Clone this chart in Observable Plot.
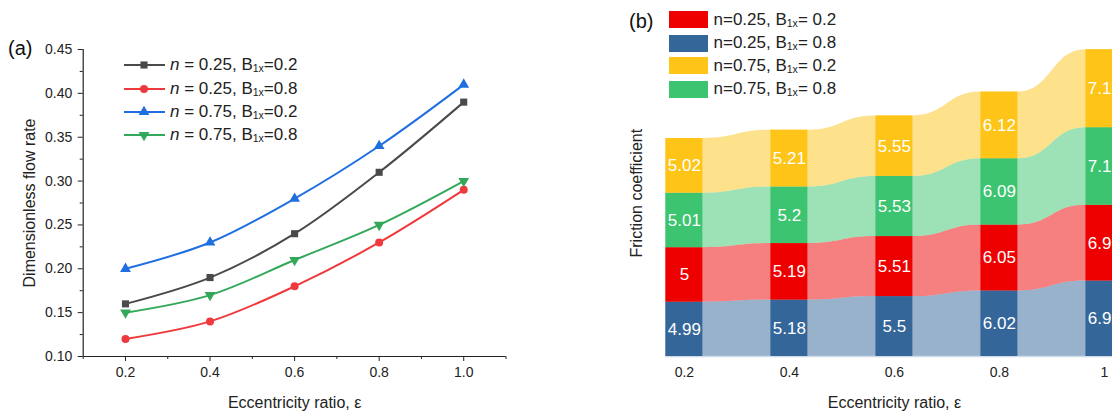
<!DOCTYPE html>
<html><head><meta charset="utf-8">
<script src="https://cdn.jsdelivr.net/npm/d3@7"></script>
<script src="https://cdn.jsdelivr.net/npm/@observablehq/plot@0.6"></script>
<style>
html,body{margin:0;padding:0;background:#fff;overflow:hidden;}
#wrap{position:relative;width:1112px;height:413px;overflow:hidden;font-family:"Liberation Sans",Arial,sans-serif;color:#222;}
#pa{position:absolute;left:0;top:0;width:560px;height:413px;}
#pb{position:absolute;left:560px;top:0;width:600px;height:413px;}
#pa svg,#pb svg{max-width:none !important;}
.tag{position:absolute;font-size:20px;line-height:20px;color:#111;}
.row{position:absolute;display:flex;align-items:center;white-space:nowrap;height:20px;font-size:17px;color:#222;}
.row sub{font-size:0.62em;position:relative;top:0.2em;vertical-align:baseline;line-height:0;}
.sw{display:inline-block;width:39px;height:17px;margin-right:6px;}
</style></head><body>
<div id="wrap"><div id="pa"></div><div id="pb"></div></div>
<script>
// ---- data ----
const ecc = [0.2, 0.4, 0.6, 0.8, 1.0];
const eccTickLabelsB = ["0.2", "0.4", "0.6", "0.8", "1"];
const yTicksA = [0.10, 0.15, 0.20, 0.25, 0.30, 0.35, 0.40, 0.45];
const yMinorA = [0.125, 0.175, 0.225, 0.275, 0.325, 0.375, 0.425];
const xMinorA = [0.1, 0.3, 0.5, 0.7, 0.9, 1.1];

// panel (a): dimensionless flow rate
const flowN = ["0.25", "0.25", "0.75", "0.75"];
const flowB = ["0.2", "0.8", "0.2", "0.8"];
const flowN025B02 = [0.16, 0.19, 0.24, 0.31, 0.39];
const flowN025B08 = [0.12, 0.14, 0.18, 0.23, 0.29];
const flowN075B02 = [0.20, 0.23, 0.28, 0.34, 0.41];
const flowN075B08 = [0.15, 0.17, 0.21, 0.25, 0.30];
const flowColors = ["#4a4a4a", "#f0393c", "#1f6fe0", "#34a85a"];

// panel (b): friction coefficient (stack order bottom -> top)
const fricN = ["0.25", "0.25", "0.75", "0.75"];
const fricB = ["0.8", "0.2", "0.8", "0.2"];
const fricN025B08 = [4.99, 5.18, 5.5, 6.02, 6.93];
const fricN025B02 = [5, 5.19, 5.51, 6.05, 6.96];
const fricN075B08 = [5.01, 5.2, 5.53, 6.09, 7.12];
const fricN075B02 = [5.02, 5.21, 5.55, 6.12, 7.16];
const fricColors = ["#346699", "#ee0000", "#3cc470", "#fec418"];
const legendOrderB = [1, 0, 3, 2];

// ---- panel (a) ----
const flowValues = [flowN025B02, flowN025B08, flowN075B02, flowN075B08];
const flowSeries = flowN.map((n, k) => `n = ${n}, B1x=${flowB[k]}`);
const triDown = {draw(ctx, size) {
  const y = -Math.sqrt(size / (Math.sqrt(3) * 3));
  ctx.moveTo(0, -y * 2);
  ctx.lineTo(-Math.sqrt(3) * y, y);
  ctx.lineTo(Math.sqrt(3) * y, y);
  ctx.closePath();
}};
const flowSymbols = [d3.symbolSquare, d3.symbolCircle, d3.symbolTriangle, triDown];
const flowRows = [];
flowValues.forEach((vals, k) => ecc.forEach((e, i) => flowRows.push({series: flowSeries[k], e, q: vals[i]})));

const plotA = Plot.plot({
  width: 560, height: 413,
  marginLeft: 82.7, marginRight: 54.5, marginTop: 49, marginBottom: 57,
  style: {fontFamily: "Liberation Sans, Arial, sans-serif", color: "#222", background: "transparent", maxWidth: "none"},
  x: {domain: [0.1, 1.1]},
  y: {domain: [0.10, 0.45]},
  color: {domain: flowSeries, range: flowColors},
  symbol: {domain: flowSeries, range: flowSymbols},
  marks: [
    Plot.axisY({ticks: yTicksA, tickFormat: d => d.toFixed(2), tickSize: 5, tickPadding: 6, fontSize: 14, label: null}),
    Plot.axisY({ticks: yMinorA, tickSize: 3, tickFormat: () => "", label: null}),
    Plot.axisY({ticks: [], label: "Dimensionless flow rate", labelArrow: "none", labelAnchor: "center", labelOffset: 60, fontSize: 16}),
    Plot.axisX({ticks: ecc, tickFormat: d => d.toFixed(1), tickSize: 5, tickPadding: 6, fontSize: 14, label: null}),
    Plot.axisX({ticks: xMinorA, tickSize: 3, tickFormat: () => "", label: null}),
    Plot.axisX({ticks: [], label: "Eccentricity ratio, ε", labelArrow: "none", labelAnchor: "center", labelOffset: 51, fontSize: 16}),
    Plot.ruleX([0.1], {y1: 0.10, y2: 0.45, stroke: "#222", strokeWidth: 1.2}),
    Plot.ruleY([0.10], {x1: 0.1, x2: 1.1, stroke: "#222", strokeWidth: 1.2}),
    Plot.line(flowRows, {x: "e", y: "q", z: "series", stroke: "series", strokeWidth: 2, curve: "catmull-rom"}),
    Plot.dot(flowRows, {x: "e", y: "q", fill: "series", symbol: "series", r: 4, stroke: "none"})
  ]
});
plotA.style.maxWidth = "none";
document.getElementById("pa").appendChild(plotA);

// ---- panel (b) ----
const fricValues = [fricN025B08, fricN025B02, fricN075B08, fricN075B02];
const hw = 0.0352;
const barRows = [];
const cum = ecc.map(() => 0);
const areaRows = [];
fricValues.forEach((vals, k) => {
  ecc.forEach((e, i) => {
    const y1 = cum[i], y2 = cum[i] + vals[i];
    barRows.push({k, e, y1, y2, v: vals[i]});
    areaRows.push({k, e: e - hw, y1, y2});
    areaRows.push({k, e: e + hw, y1, y2});
    cum[i] = y2;
  });
});

const plotB = Plot.plot({
  width: 600, height: 413,
  marginLeft: 105.4, marginRight: 37.6, marginTop: 29.3, marginBottom: 57,
  style: {fontFamily: "Liberation Sans, Arial, sans-serif", color: "#222", background: "transparent", maxWidth: "none"},
  x: {domain: [0.2 - hw, 1.0 + hw]},
  y: {domain: [0, 30]},
  marks: [
    Plot.areaY(areaRows, {x: "e", y1: "y1", y2: "y2", z: "k", fill: d => fricColors[d.k], fillOpacity: 0.5, curve: "bump-x"}),
    Plot.ruleY([0], {x1: 0.2 - hw, x2: 1.2, stroke: "#cfdbe6", strokeWidth: 1.5}),
    Plot.rect(barRows, {x1: d => d.e - hw, x2: d => d.e + hw, y1: "y1", y2: "y2", fill: d => fricColors[d.k]}),
    Plot.text(barRows, {x: "e", y: d => (d.y1 + d.y2) / 2, text: d => String(d.v), fill: "white", fontSize: 17}),
    Plot.axisX({ticks: ecc, tickFormat: (d, i) => eccTickLabelsB[i], tickSize: 0, tickPadding: 11, fontSize: 14, label: null}),
    Plot.axisX({ticks: [], label: "Eccentricity ratio, ε", labelArrow: "none", labelAnchor: "center", labelOffset: 51, fontSize: 16}),
    Plot.axisY({ticks: [], label: "Friction coefficient", labelArrow: "none", labelAnchor: "center", labelOffset: 35, fontSize: 16})
  ]
});
plotB.style.maxWidth = "none";
document.getElementById("pb").appendChild(plotB);

// ---- tags and legends ----
const wrap = document.getElementById("wrap");
function addTag(txt, left, top) {
  const d = document.createElement("div");
  d.className = "tag"; d.textContent = txt;
  d.style.left = left + "px"; d.style.top = top + "px";
  wrap.appendChild(d);
}
addTag("(a)", 8, 38);
addTag("(b)", 629, 11);

const rowCentersA = [65, 89.3, 111.7, 135];
flowSeries.forEach((s, k) => {
  const row = document.createElement("div");
  row.className = "row";
  row.style.left = "124px"; row.style.top = (rowCentersA[k] - 10) + "px";
  const path = d3.symbol().type(flowSymbols[k]).size(Math.PI * 16)();
  row.innerHTML = `<svg width="41" height="16" style="margin-right:5px"><line x1="0" x2="41" y1="8" y2="8" stroke="${flowColors[k]}" stroke-width="2"/><path transform="translate(20,8)" d="${path}" fill="${flowColors[k]}"/></svg><span><i>n</i> = ${flowN[k]}, B<sub>1x</sub>=${flowB[k]}</span>`;
  wrap.appendChild(row);
});

const rowCentersB = [19.5, 43, 65.7, 89];
legendOrderB.forEach((k, j) => {
  const row = document.createElement("div");
  row.className = "row";
  row.style.left = "668.5px"; row.style.top = (rowCentersB[j] - 10) + "px";
  row.innerHTML = `<span class="sw" style="background:${fricColors[k]}"></span><span>n=${fricN[k]}, B<sub>1x</sub>= ${fricB[k]}</span>`;
  wrap.appendChild(row);
});
</script></body></html>
